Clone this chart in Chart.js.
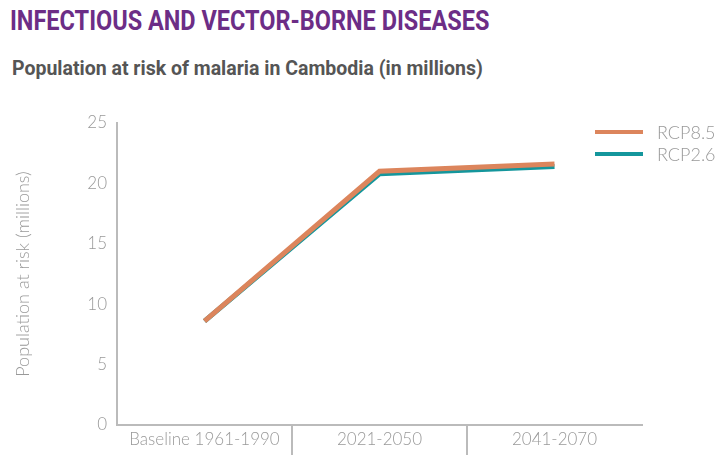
<!DOCTYPE html>
<html>
<head>
<meta charset="utf-8">
<script src="https://cdn.jsdelivr.net/npm/chart.js@4.4.0/dist/chart.umd.min.js"></script>
<style>
    body{margin:0;background:#fff;width:728px;height:456px;overflow:hidden;position:relative;font-family:Lato,"Open Sans",sans-serif;}
    .heading{position:absolute;left:10px;top:5px;font-family:Roboto,sans-serif;font-weight:700;font-size:27px;color:#6c2d86;white-space:nowrap;transform-origin:left top;transform:scaleX(0.87);}
    .subheading{position:absolute;left:12px;top:56px;font-family:Roboto,sans-serif;font-weight:700;font-size:20px;color:#555;white-space:nowrap;transform-origin:left top;transform:scaleX(0.975);}
    #chart-box{position:absolute;left:0;top:100px;width:728px;height:356px;}
    .legend{position:absolute;left:595px;top:121px;}
    .legend-row{display:flex;align-items:center;height:22px;}
    .legend-line{width:48px;height:4px;margin-right:14px;}
    .legend-text{font-size:18px;font-weight:300;color:#999;font-family:Lato,sans-serif;}
</style>
</head>
<body>
<div class="heading">INFECTIOUS AND VECTOR-BORNE DISEASES</div>
<div class="subheading">Population at risk of malaria in Cambodia (in millions)</div>
<div id="chart-box"><canvas id="riskChart"></canvas></div>
<div class="legend" id="legend"></div>
<script>
const periods = ["Baseline 1961-1990", "2021-2050", "2041-2070"];
const rcp85 = [8.6, 21.0, 21.6];
const rcp26 = [8.6, 20.8, 21.4];
const seriesNames = ["RCP8.5", "RCP2.6"];
const seriesColors = ["#dc855c", "#14969c"];
const yTicks = [0, 5, 10, 15, 20, 25];

const legend = document.getElementById("legend");
seriesNames.forEach((name, i) => {
    const row = document.createElement("div");
    row.className = "legend-row";
    row.innerHTML = '<div class="legend-line" style="background:' + seriesColors[i] + '"></div><span class="legend-text">' + name + '</span>';
    legend.appendChild(row);
});

const ctx = document.getElementById("riskChart");
new Chart(ctx, {
    type: "line",
    data: {
        labels: periods,
        datasets: [
            {
                label: seriesNames[1],
                data: rcp26,
                borderColor: seriesColors[1],
                borderWidth: 5,
                pointRadius: 0,
                order: 2
            },
            {
                label: seriesNames[0],
                data: rcp85,
                borderColor: seriesColors[0],
                borderWidth: 5,
                pointRadius: 0,
                order: 1
            },
        ],
    },
    options:{
        responsive: true,
        maintainAspectRatio: false,
        animation: false,
        layout:{
            padding:{top: 23, right: 86, left: 0, bottom: 0}
        },
        plugins:{
            legend:{display:false},
            tooltip:{enabled:false},
        },
        scales:{
            x:{
                offset: true,
                grid:{
                    offset: true,
                    drawOnChartArea: false,
                    drawTicks: true,
                    tickLength: 30,
                    lineWidth: 2,
                    color: (c) => (c.index > 0 && c.index < periods.length) ? "#bbb" : "rgba(0,0,0,0)"
                },
                border:{color:"#bbb", width:2},
                ticks:{
                    color:"#999",
                    padding:-26,
                    font:{family:"Lato", size:17, weight:300},
                    maxRotation:0
                },
                afterFit: (scale) => { scale.height = 31; }
            },
            y:{
                min: 0,
                max: 25,
                afterBuildTicks: (scale) => { scale.ticks = yTicks.map(v => ({value: v})); },
                grid:{
                    drawOnChartArea: false,
                    drawTicks: false
                },
                border:{color:"#bbb", width:2},
                ticks:{
                    color:"#999",
                    padding:10,
                    font:{family:"Lato", size:17, weight:300}
                },
                title:{
                    display:true,
                    text:"Population at risk (millions)",
                    color:"#999",
                    font:{family:"Lato", size:18, weight:300},
                    padding:{top:12, bottom:0}
                },
                afterFit: (scale) => { scale.width = 117; }
            }
        }
    },
});
</script>
</body>
</html>
